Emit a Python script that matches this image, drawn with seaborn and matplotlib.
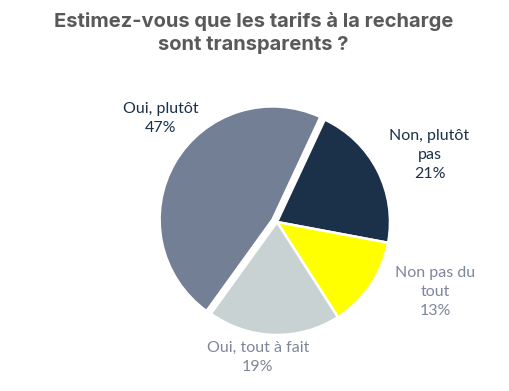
import seaborn as sns
import matplotlib.pyplot as plt

# Answers, clockwise from the top
labels = ['Non, plutôt\npas', 'Non pas du\ntout', 'Oui, tout à fait', 'Oui, plutôt']
shares = [21, 13, 19, 47]
colors = ['#1b3149', '#ffff00', '#c9d2d3', '#737f94']
label_colors = ['#1b3149', '#7d879b', '#7d879b', '#1b3149']
explode = [0, 0, 0, 0.045]
# label centres, in pie radius units
label_pos = [(1.35, 0.59), (1.40, -0.62), (-0.17, -1.20), (-1.03, 0.92)]

sns.set_theme(style='white')
plt.rcParams['font.family'] = ['Lato', 'DejaVu Sans']

fig = plt.figure(figsize=(5.09, 3.91), dpi=100)
ax = fig.add_axes([0, 0, 1, 1])

wedges, _ = ax.pie(shares, colors=colors, explode=explode, startangle=65,
                   counterclock=False, radius=1,
                   wedgeprops=dict(edgecolor='white', linewidth=1.8))

for lab, val, col, (x, y) in zip(labels, shares, label_colors, label_pos):
    ax.text(x, y, f'{lab}\n{val}%', ha='center', va='center', color=col,
            fontsize=11.5, linespacing=1.45)

# pie centre at (277, 222) px from the top-left, radius 113 px
ax.set_xlim(-277 / 113, (509 - 277) / 113)
ax.set_ylim(-(391 - 222) / 113, 222 / 113)
ax.set_aspect('auto')
ax.axis('off')

fig.text(0.498, 0.916, 'Estimez-vous que les tarifs à la recharge\nsont transparents ?',
         ha='center', va='center', fontsize=14.5, fontweight='bold', color='#595959',
         family=['Inter', 'DejaVu Sans'], linespacing=1.4)

fig.savefig('out.png', dpi=100)
